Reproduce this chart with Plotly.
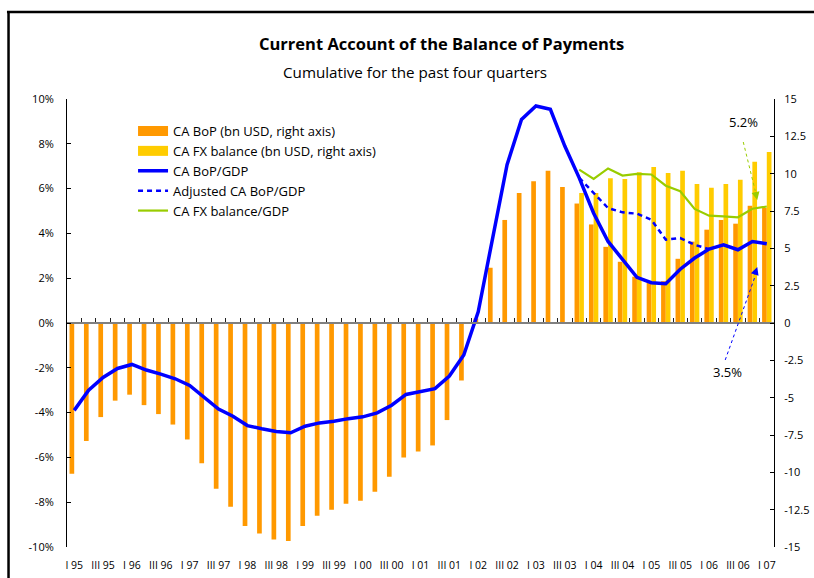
import plotly.graph_objects as go

# ---------------- data ----------------
years = ["95", "96", "97", "98", "99", "00", "01", "02", "03", "04", "05", "06"]
quarter_names = ["I", "II", "III", "IV"]
quarters = [f"{q} {y}" for y in years for q in quarter_names] + ["I 07"]
tick_labels = quarters[::2]

# CA BoP, bn USD (right axis)
ca_bop_bn = [-10.1, -7.9, -6.3, -5.2, -4.8, -5.5, -6.1, -6.8, -7.8, -9.4,
             -11.1, -12.3, -13.6, -14.1, -14.5, -14.6, -13.6, -12.9, -12.5, -12.1,
             -11.9, -11.3, -10.3, -9.0, -8.6, -8.2, -6.5, -3.85, 0.3, 3.7,
             6.9, 8.7, 9.5, 10.2, 9.1, 8.0, 6.6, 5.1, 4.1, 3.1,
             2.7, 2.8, 4.3, 5.45, 6.25, 6.9, 6.65, 7.85, 7.7]
# CA FX balance, bn USD (right axis)
ca_fx_bn = [None] * 35 + [8.7, 8.7, 9.7, 9.65, 10.1, 10.45, 10.05, 10.2, 9.3,
                          9.05, 9.3, 9.6, 10.8, 11.45]
# CA BoP / GDP, %
ca_bop_gdp = [-3.9, -3.0, -2.43, -2.03, -1.85, -2.1, -2.28, -2.49, -2.79, -3.34,
              -3.84, -4.16, -4.58, -4.72, -4.84, -4.9, -4.61, -4.46, -4.39, -4.27,
              -4.19, -4.01, -3.67, -3.19, -3.06, -2.93, -2.37, -1.43, 0.5, 3.7,
              7.07, 9.09, 9.69, 9.54, 7.9, 6.48, 4.9, 3.64, 2.82, 2.04,
              1.8, 1.75, 2.4, 2.9, 3.3, 3.49, 3.27, 3.64, 3.54]
# Adjusted CA BoP / GDP, %
adj_ca_bop_gdp = [None] * 35 + [6.48, 5.8, 5.13, 4.94, 4.88, 4.61, 3.72, 3.79,
                                3.49, 3.3] + [None] * 4
# CA FX balance / GDP, %
ca_fx_gdp = [None] * 35 + [6.85, 6.43, 6.9, 6.58, 6.66, 6.63, 6.13, 5.88, 5.09,
                           4.79, 4.76, 4.72, 5.1, 5.2]

left_ticks = [-10, -8, -6, -4, -2, 0, 2, 4, 6, 8, 10]
left_labels = ["-10%", "-8%", "-6%", "-4%", "-2%", "0%", "2%", "4%", "6%", "8%", "10%"]
right_ticks = [-15, -12.5, -10, -7.5, -5, -2.5, 0, 2.5, 5, 7.5, 10, 12.5, 15]
right_labels = ["-15", "-12.5", "-10", "-7.5", "-5", "-2.5", "0", "2.5", "5",
                "7.5", "10", "12.5", "15"]
boundaries = [i - 0.5 for i in range(len(quarters) + 1)]

FONT = "Open Sans"
ORANGE = "#FF9900"
YELLOW = "#FFCC00"
BLUE = "#0000FF"
GREEN = "#99CC00"

fig = go.Figure()
fig.add_trace(go.Bar(x=quarters, y=ca_bop_bn, name="CA BoP (bn USD, right axis)",
                     marker=dict(color=ORANGE, line=dict(width=0)), xaxis="x", yaxis="y",
                     showlegend=False))
fig.add_trace(go.Bar(x=quarters, y=ca_fx_bn, name="CA FX balance (bn USD, right axis)",
                     marker=dict(color=YELLOW, line=dict(width=0)), xaxis="x", yaxis="y",
                     showlegend=False))
# legend keys for the bar series (wide rectangles as in the original)
fig.add_trace(go.Scatter(x=[None], y=[None], mode="lines", name="CA BoP (bn USD, right axis)",
                         line=dict(color=ORANGE, width=10), xaxis="x", yaxis="y2"))
fig.add_trace(go.Scatter(x=[None], y=[None], mode="lines",
                         name="CA FX balance (bn USD, right axis)",
                         line=dict(color=YELLOW, width=10), xaxis="x", yaxis="y2"))
fig.add_trace(go.Scatter(x=quarters, y=ca_bop_gdp, name="CA BoP/GDP", mode="lines",
                         line=dict(color=BLUE, width=3.5), xaxis="x", yaxis="y2"))
fig.add_trace(go.Scatter(x=quarters, y=adj_ca_bop_gdp, name="Adjusted CA BoP/GDP",
                         mode="lines", line=dict(color=BLUE, width=2.5, dash="5px,4px"),
                         xaxis="x", yaxis="y2"))
fig.add_trace(go.Scatter(x=quarters, y=ca_fx_gdp, name="CA FX balance/GDP", mode="lines",
                         line=dict(color=GREEN, width=2.2), xaxis="x", yaxis="y2"))
# carrier for the zero-line axis with boundary ticks
fig.add_trace(go.Scatter(x=[None], y=[None], xaxis="x2", yaxis="y", showlegend=False,
                         hoverinfo="skip"))

fig.update_layout(
    width=814, height=578,
    margin=dict(l=67, r=40, t=99, b=31),
    paper_bgcolor="white", plot_bgcolor="white",
    font=dict(family=FONT, size=12, color="#000000"),
    barmode="group", bargap=0.35, bargroupgap=0,
    showlegend=True,
    legend=dict(x=0.0934, y=0.962, xanchor="left", yanchor="top",
                font=dict(family=FONT, size=13), bgcolor="rgba(0,0,0,0)",
                tracegroupgap=0, traceorder="normal"),
    xaxis=dict(type="category", range=[-0.5, 48.5], tickvals=tick_labels,
               ticktext=tick_labels, tickangle=0, ticks="", showline=False,
               showgrid=False, zeroline=False, tickfont=dict(size=10.5),
               ticklabelstandoff=10, automargin=False),
    xaxis2=dict(overlaying="x", type="linear", range=[-0.5, 48.5], anchor="free",
                position=0.5, showline=True, linecolor="#808080", linewidth=2,
                ticks="inside", tickvals=boundaries, ticklen=4, tickcolor="#222222",
                tickwidth=1, showticklabels=False, showgrid=False, zeroline=False,
                automargin=False),
    yaxis=dict(side="right", range=[-15, 15], tickvals=right_ticks, ticktext=right_labels,
               ticks="inside", ticklen=4, tickcolor="#000000", showline=True,
               linecolor="#000000", linewidth=1, showgrid=False, zeroline=False,
               tickfont=dict(size=11), ticklabelstandoff=7, automargin=False),
    yaxis2=dict(overlaying="y", side="left", range=[-10, 10], tickvals=left_ticks,
                ticktext=left_labels, ticks="inside", ticklen=4, tickcolor="#000000",
                showline=True, linecolor="#000000", linewidth=1, showgrid=False,
                zeroline=False, tickfont=dict(size=11), ticklabelstandoff=10,
                automargin=False),
)

# titles
fig.add_annotation(text="<b>Current Account of the Balance of Payments</b>",
                   xref="paper", yref="paper", x=0.529, y=1.1228, showarrow=False,
                   font=dict(family=FONT, size=16.5), xanchor="center", yanchor="middle")
fig.add_annotation(text="Cumulative for the past four quarters",
                   xref="paper", yref="paper", x=0.492, y=1.0603, showarrow=False,
                   font=dict(family=FONT, size=15.2), xanchor="center", yanchor="middle")

# frame lines (top and left)
fig.add_shape(type="line", xref="paper", yref="paper", x0=-0.0849, x1=1.07,
              y0=1.1942, y1=1.1942, line=dict(color="black", width=2.5))
fig.add_shape(type="line", xref="paper", yref="paper", x0=-0.0827, x1=-0.0827,
              y0=1.1942, y1=-0.08, line=dict(color="black", width=2.5))

# 5.2% callout (green)
fig.add_shape(type="line", xref="x2", yref="y2", x0=46.37, y0=8.08, x1=47.2, y1=5.9,
              line=dict(color=GREEN, width=1, dash="dot"))
fig.add_annotation(x=47.34, y=5.49, xref="x2", yref="y2", text="", showarrow=True,
                   ax=-2, ay=-9, arrowhead=2, arrowsize=1.6, arrowwidth=1,
                   arrowcolor=GREEN)
fig.add_annotation(x=46.37, y=8.97, xref="x2", yref="y2", text="5.2%", showarrow=False,
                   font=dict(family=FONT, size=13))

# 3.5% callout (blue)
fig.add_shape(type="line", xref="x2", yref="y2", x0=45.12, y0=-1.65, x1=47.2, y1=2.1,
              line=dict(color=BLUE, width=1, dash="dot"))
fig.add_annotation(x=47.34, y=2.5, xref="x2", yref="y2", text="", showarrow=True,
                   ax=-3, ay=9, arrowhead=2, arrowsize=1.6, arrowwidth=1,
                   arrowcolor=BLUE)
fig.add_annotation(x=45.26, y=-2.19, xref="x2", yref="y2", text="3.5%", showarrow=False,
                   font=dict(family=FONT, size=13))

fig.write_html("out.html",
               config={"displayModeBar": False},
               post_script="document.body.style.margin='0px';")
